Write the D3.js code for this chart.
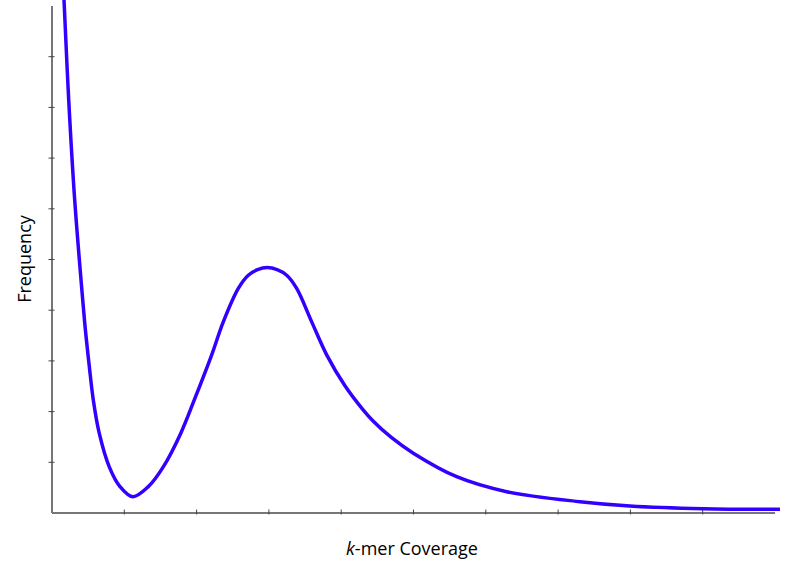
<!DOCTYPE html>
<html>
<head>
<meta charset="utf-8">
<script src="https://cdn.jsdelivr.net/npm/d3@7"></script>
<style>
  body { margin: 0; background: #fff; }
  svg { display: block; }
</style>
</head>
<body>
<div id="chart"></div>
<script>
// values (axis units 0..10, no tick labels)
const coverage  = [0.12, 0.173, 0.238, 0.321, 0.432, 0.473, 0.523, 0.578, 0.661, 0.799, 0.947, 1.123, 1.339, 1.546, 1.787, 1.975, 2.216, 2.376, 2.584, 2.722, 2.85, 2.985, 3.12, 3.253, 3.391, 3.599, 3.806, 4.059, 4.313, 4.451, 4.7, 5.004, 5.604, 6.296, 7.31, 8.0, 9.015, 10.076]
const frequency = [11.7, 10.11, 8.14, 6.16, 4.19, 3.54, 2.88, 2.22, 1.56, 0.90, 0.51, 0.31, 0.51, 0.90, 1.56, 2.22, 3.11, 3.76, 4.42, 4.68, 4.79, 4.83, 4.79, 4.68, 4.42, 3.76, 3.11, 2.50, 2.02, 1.80, 1.48, 1.17, 0.706, 0.41, 0.213, 0.128, 0.075, 0.063]
const xTicks = [1, 2, 3, 4, 5, 6, 7, 8, 9]
const yTicks = [1, 2, 3, 4, 5, 6, 7, 8, 9]

const width = 796
const height = 573
const margin = {top: 5.5, right: 21.5, bottom: 60.5, left: 51.5}

const svg = d3.select('#chart')
  .append("svg")
  .attr("width", width)
  .attr("height", height)

const x = d3.scaleLinear()
  .domain([0, 10])
  .range([margin.left, width - margin.right])

const y = d3.scaleLinear()
  .domain([0, 10])
  .range([height - margin.bottom, margin.top])

// axes: gray line with small ticks crossing it, no labels
const xAxis = svg.append("g")
  .attr("transform", "translate(0," + y(0) + ")")
  .call(d3.axisBottom(x).tickValues(xTicks).tickSize(5).tickFormat("").tickSizeOuter(0))
xAxis.select(".domain").attr("stroke", "#777").attr("stroke-width", 2)
xAxis.selectAll(".tick line").attr("y1", -3).attr("y2", 2).attr("stroke", "#444")

const yAxis = svg.append("g")
  .attr("transform", "translate(" + x(0) + ",0)")
  .call(d3.axisLeft(y).tickValues(yTicks).tickSize(5).tickFormat("").tickSizeOuter(0))
yAxis.select(".domain").attr("stroke", "#777").attr("stroke-width", 2)
yAxis.selectAll(".tick line").attr("x1", -3).attr("x2", 3).attr("stroke", "#444")

const points = coverage.map(function(d, i) { return [d, frequency[i]] })

const line = d3.line()
  .x(function(d) { return x(d[0]) })
  .y(function(d) { return y(d[1]) })
  .curve(d3.curveCatmullRom.alpha(0.5))

svg.append("path")
  .datum(points)
  .attr("fill", "none")
  .attr("stroke", "#3300ff")
  .attr("stroke-width", 3.5)
  .attr("stroke-linejoin", "round")
  .attr("d", line)

// axis titles
const xLabel = svg.append("text")
  .attr("x", 412)
  .attr("y", 555)
  .style("text-anchor", "middle")
  .style("font-family", "'Open Sans', sans-serif")
  .style("font-size", "18px")
  .attr("fill", "#000")
xLabel.append("tspan").style("font-style", "italic").text("k")
xLabel.append("tspan").text("-mer Coverage")

svg.append("text")
  .attr("transform", "translate(31,259) rotate(-90)")
  .style("text-anchor", "middle")
  .style("font-family", "'Open Sans', sans-serif")
  .style("font-size", "18px")
  .attr("fill", "#000")
  .text("Frequency")
</script>
</body>
</html>
